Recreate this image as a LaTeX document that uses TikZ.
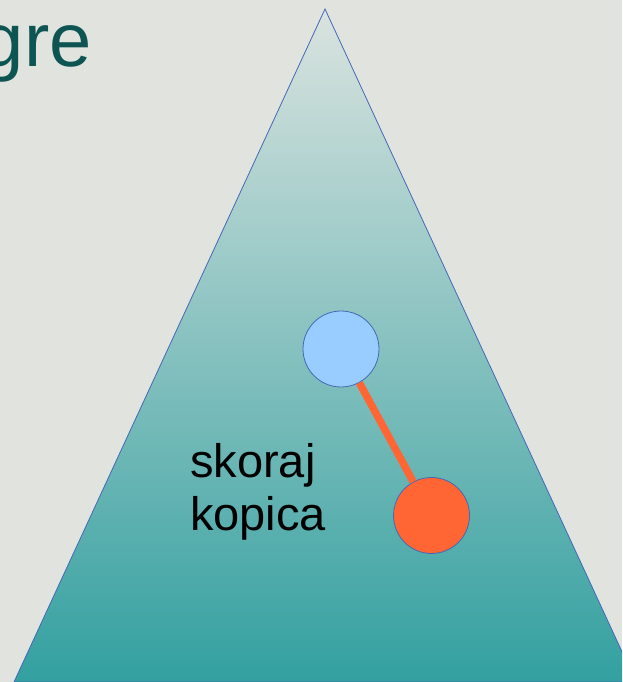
\documentclass[tikz,border=0pt]{standalone}
\usepackage{fontspec}
\setmainfont{Liberation Sans}

\definecolor{slidebg}{HTML}{E1E3DE}
\definecolor{titleteal}{HTML}{0D5553}
\definecolor{edgeblue}{HTML}{4468B8}
\definecolor{topfill}{HTML}{DAE3DF}
\definecolor{midfill}{HTML}{8EC5C1}
\definecolor{basefill}{HTML}{33A0A0}
\definecolor{heapblue}{HTML}{99CCFF}
\definecolor{heaporange}{HTML}{FF6633}

\tikzset{
  heapnode/.style={circle, draw=edgeblue, line width=0.8pt, minimum size=76pt, inner sep=0pt},
  heaplink/.style={heaporange, line width=7.4pt}
}

\begin{document}
\begin{tikzpicture}[x=1pt, y=1pt]
			\useasboundingbox (0,0) rectangle (622,682);
			\fill[slidebg] (0,0) rectangle (622,682);

			\begin{scope}
			\clip (0,0) rectangle (622,682);

			% Draw the title piece in the corner
			\node[anchor=base east, inner sep=0pt, text=titleteal,
			      font=\fontsize{76}{80}\selectfont] (title) at (92,615) {gre};

			% Draw the triangle
			\draw[edgeblue, line width=0.8pt, top color=topfill, middle color=midfill,
			      bottom color=basefill] (325,673) -- (14,0) -- (636,0) -- cycle;
			\end{scope}

			% Draw the two nodes and the link between them
			\node[heapnode, fill=heapblue] (upper) at (341,333) {};
			\node[heapnode, fill=heaporange] (lower) at (431.5,166.5) {};
			\draw[heaplink] (upper) -- (lower);

			\node[anchor=north west, inner sep=0pt, align=left,
			      font=\fontsize{47}{53}\selectfont] (label) at (190,239) {skoraj\\kopica};

		\end{tikzpicture}
\end{document}
